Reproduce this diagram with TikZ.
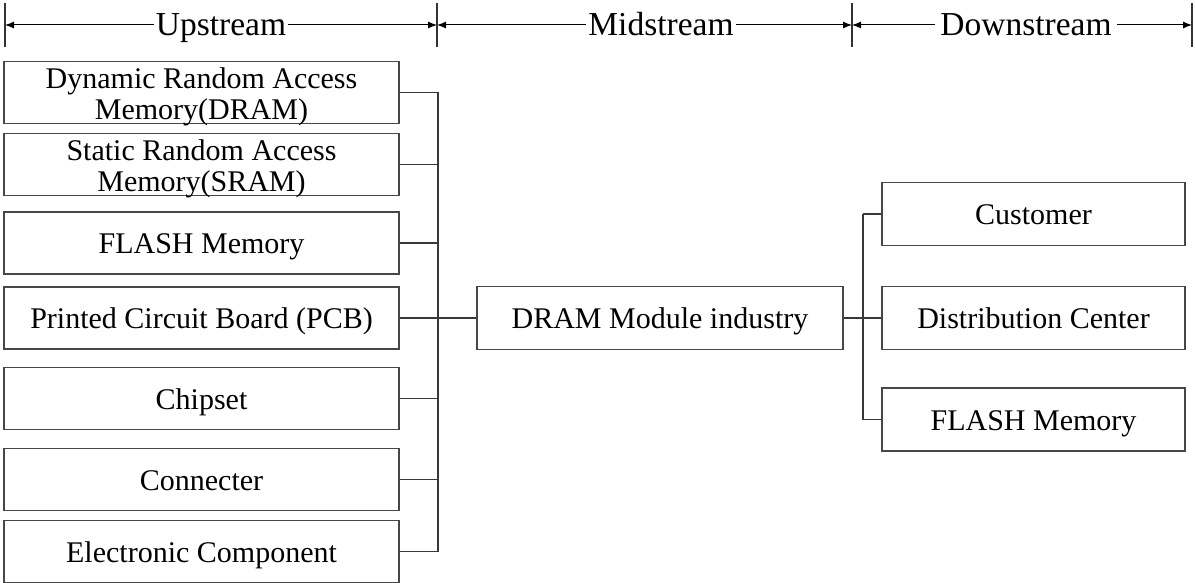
\documentclass[tikz,border=0pt]{standalone}
\usepackage{fontspec}
\setmainfont{Liberation Serif}
\usetikzlibrary{arrows.meta}
\newcommand{\twolines}[2]{\begin{tabular}[t]{@{}c@{}}#1\\#2\end{tabular}}
\begin{document}
\begin{tikzpicture}[x=1pt,y=-1pt,
  boxtext/.style={font=\fontsize{30}{31.5}\selectfont,inner sep=0pt,align=center,text height=25pt,text depth=4pt},
  twoline/.style={text height=24pt,text depth=32pt},
  ubox/.style={boxtext,draw=black!72,line width=1.4pt,minimum width=395,minimum height=62},
  mbox/.style={boxtext,draw=black!72,line width=1.4pt,minimum width=366,minimum height=63},
  dbox/.style={boxtext,draw=black!72,line width=1.4pt,minimum width=303,minimum height=63},
  conn/.style={draw=black!78,line width=1.4pt},
  tick/.style={draw=black!80,line width=1.2pt},
  span/.style={draw=black,line width=1pt,{Latex[length=9pt,width=7pt]}-{Latex[length=9pt,width=7pt]}},
  head/.style={font=\fontsize{33.5}{36}\selectfont,fill=white,inner xsep=2pt,inner ysep=0pt,anchor=base}]
\useasboundingbox (0,0) rectangle (1195,583);

% header ticks
\foreach \n/\x in {t0/5,t1/437,t2/852,t3/1192}{
  \coordinate (\n) at (\x,25);
  \coordinate (\n top) at (\x,3);
  \coordinate (\n bot) at (\x,47);
  \draw[tick] (\n top) -- (\n bot);
}
\draw[span] (t0) -- (t1);
\draw[span] (t1) -- (t2);
\draw[span] (t2) -- (t3);
\node[head] (hu) at (221,36) {Upstream};
\node[head] (hm) at (661,36) {Midstream};
\node[head,inner xsep=5pt] (hd) at (1026,36) {Downstream};

% upstream boxes
\node[ubox,twoline] (b1) at (201.5,92.5) {\twolines{Dynamic Random Access}{Memory(DRAM)}};
\node[ubox,twoline] (b2) at (201.5,164.5) {\twolines{Static Random Access}{Memory(SRAM)}};
\node[ubox] (b3) at (201.5,243) {FLASH Memory};
\node[ubox] (b4) at (201.5,318) {Printed Circuit Board (PCB)};
\node[ubox] (b5) at (201.5,398.5) {Chipset};
\node[ubox] (b6) at (201.5,479.5) {Connecter};
\node[ubox] (b7) at (201.5,551.5) {Electronic Component};

% midstream
\node[mbox] (mid) at (660,318) {DRAM Module industry};

% downstream
\node[dbox] (r1) at (1033.5,214) {Customer};
\node[dbox] (r2) at (1033.5,318) {Distribution Center};
\node[dbox] (r3) at (1033.5,419.5) {FLASH Memory};

% left spine
\coordinate (ls) at (438,318);
\foreach \b in {b1,b2,b3,b4,b5,b6,b7}{
  \draw[conn] (\b.east) -- (\b.east -| ls);
}
\draw[conn] (b1.east -| ls) -- (b7.east -| ls);
\draw[conn] (b4.east -| ls) -- (mid.west);

% right spine
\coordinate (rs) at (863,318);
\draw[conn] (mid.east) -- (r2.west);
\draw[conn] (r1.west -| rs) -- (r3.west -| rs);
\draw[conn] (r1.west) -- (r1.west -| rs);
\draw[conn] (r3.west) -- (r3.west -| rs);
\end{tikzpicture}
\end{document}
